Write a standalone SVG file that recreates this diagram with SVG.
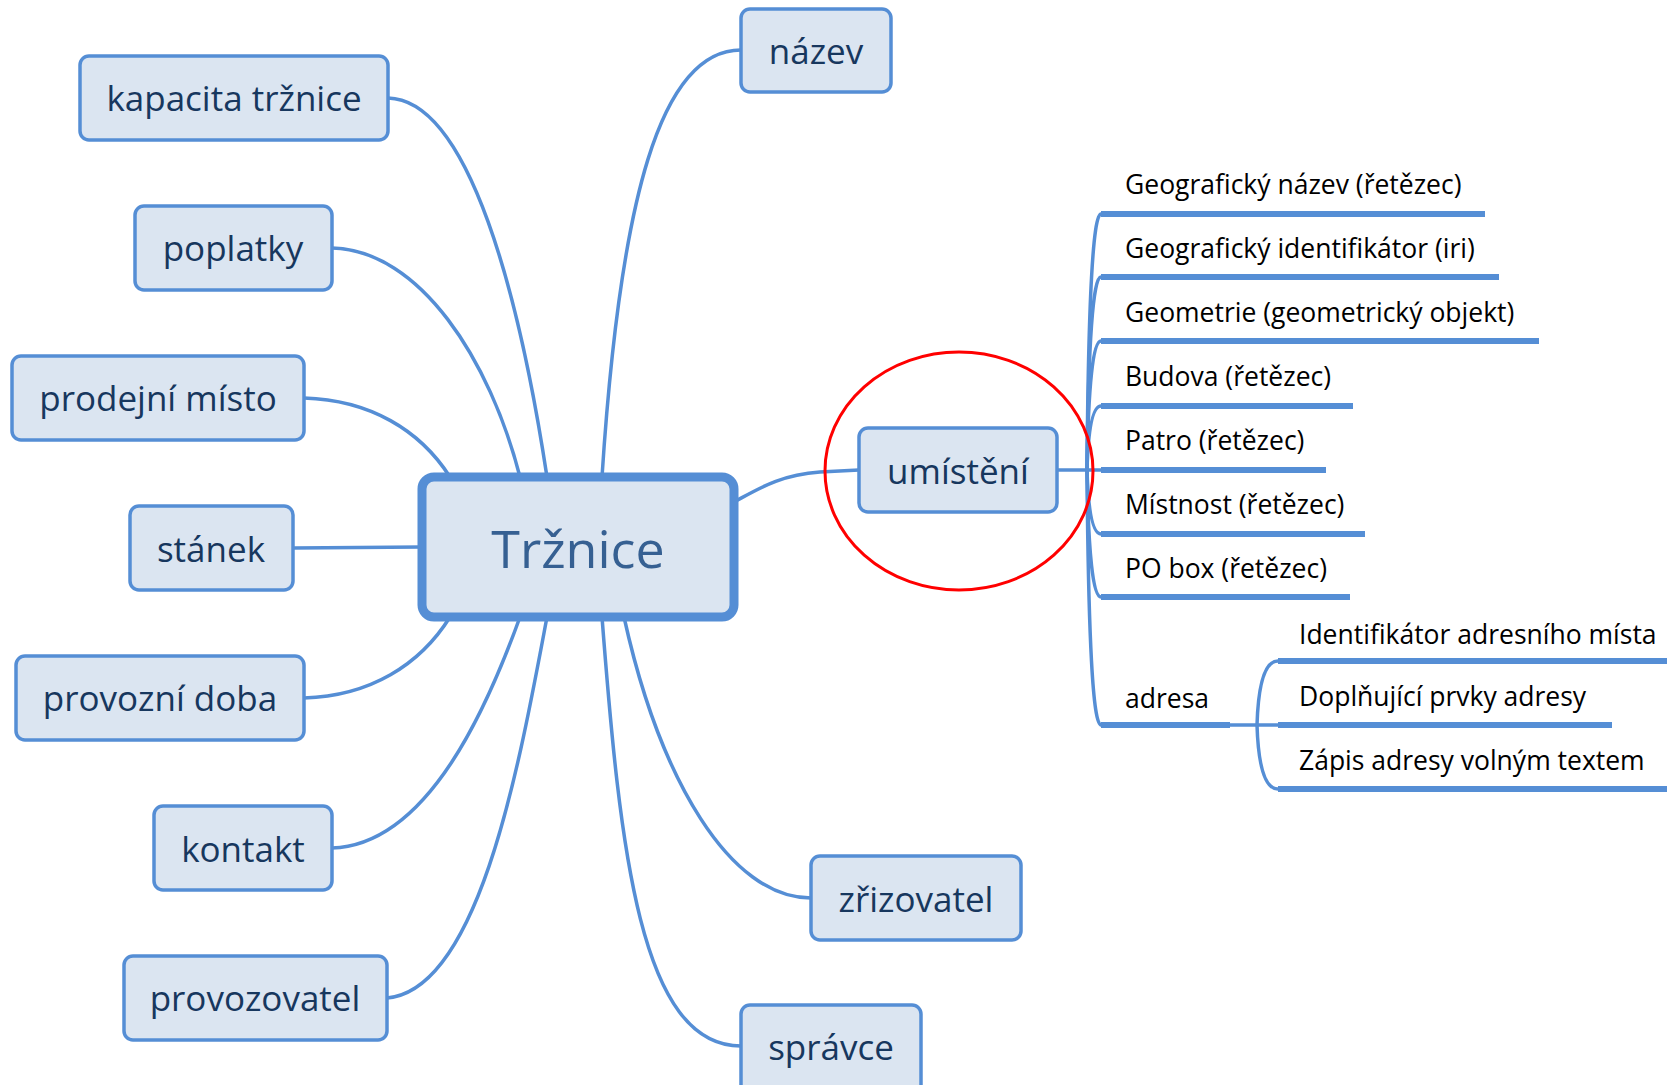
<svg xmlns="http://www.w3.org/2000/svg" width="1667" height="1085" viewBox="0 0 1667 1085">
<style>
.box{fill:#DBE5F1;stroke:#558ED5;stroke-width:3.5}
.root{fill:#DBE5F1;stroke:#558ED5;stroke-width:9}
.lbl{font-family:"Open Sans","Noto Sans","DejaVu Sans",sans-serif;font-size:35px;fill:#17375E;text-anchor:middle}
.rootlbl{font-family:"Open Sans","Noto Sans","DejaVu Sans",sans-serif;font-size:52px;fill:#366092;text-anchor:middle}
.sub{font-family:"Open Sans","Noto Sans","DejaVu Sans",sans-serif;font-size:26.5px;fill:#000}
.c{fill:none;stroke:#558ED5;stroke-width:3.5}
.u{fill:none;stroke:#558ED5;stroke-width:6}
</style>
<rect width="1667" height="1085" fill="#fff"/>
<g id="connectors">
<path class="c" d="M388 98 C470 100 520 300 547 477"/>
<path class="c" d="M332 248 C420 250 490 360 520 477"/>
<path class="c" d="M304 398 C370 400 420 430 450 477"/>
<path class="c" d="M293 548 L422 547"/>
<path class="c" d="M304 698 C370 696 420 665 450 617"/>
<path class="c" d="M332 848 C430 845 490 700 520 617"/>
<path class="c" d="M387 998 C480 990 520 760 547 617"/>
<path class="c" d="M741 50 C660 50 620 200 602 477"/>
<path class="c" d="M624 617 C660 780 730 898 811 898"/>
<path class="c" d="M602 617 C620 850 640 1046 741 1046"/>
<path class="c" d="M734 502 C760 488 780 475 820 472 L859 470"/>
<path class="c" d="M1057 470 L1087 470"/>
<path class="c" d="M1087 470 Q1089 214 1101 214"/>
<path class="c" d="M1087 470 Q1089 277 1101 277"/>
<path class="c" d="M1087 470 Q1089 341 1101 341"/>
<path class="c" d="M1087 470 Q1089 406 1101 406"/>
<path class="c" d="M1087 470 L1101 470"/>
<path class="c" d="M1087 470 Q1089 534 1101 534"/>
<path class="c" d="M1087 470 Q1089 597 1101 597"/>
<path class="c" d="M1087 470 Q1089 725 1101 725"/>
<path class="c" d="M1230 725 L1257 725"/>
<path class="c" d="M1257 725 Q1259 661 1278 661"/>
<path class="c" d="M1257 725 L1278 725"/>
<path class="c" d="M1257 725 Q1259 789 1278 789"/>
</g>
<g id="umisteni-items">
<path class="u" d="M1101 214 H1485"/>
<path class="u" d="M1101 277 H1499"/>
<path class="u" d="M1101 341 H1539"/>
<path class="u" d="M1101 406 H1353"/>
<path class="u" d="M1101 470 H1326"/>
<path class="u" d="M1101 534 H1365"/>
<path class="u" d="M1101 597 H1350"/>
<path class="u" d="M1101 725 H1230"/>
<path class="u" d="M1278 661 H1667"/>
<path class="u" d="M1278 725 H1612"/>
<path class="u" d="M1278 789 H1667"/>
<text class="sub" x="1125" y="194">Geografický název (řetězec)</text>
<text class="sub" x="1125" y="258">Geografický identifikátor (iri)</text>
<text class="sub" x="1125" y="322">Geometrie (geometrický objekt)</text>
<text class="sub" x="1125" y="386">Budova (řetězec)</text>
<text class="sub" x="1125" y="450">Patro (řetězec)</text>
<text class="sub" x="1125" y="514">Místnost (řetězec)</text>
<text class="sub" x="1125" y="578">PO box (řetězec)</text>
<text class="sub" x="1125" y="708">adresa</text>
<text class="sub" x="1299" y="644">Identifikátor adresního místa</text>
<text class="sub" x="1299" y="706">Doplňující prvky adresy</text>
<text class="sub" x="1299" y="770">Zápis adresy volným textem</text>
</g>
<g id="n-root"><rect class="root" x="422" y="477" width="312" height="140" rx="12"/><text class="rootlbl" x="578" y="568">Tržnice</text></g>
<g id="n-kapacita"><rect class="box" x="80" y="56" width="308" height="84" rx="9"/><text class="lbl" x="234" y="111">kapacita tržnice</text></g>
<g id="n-poplatky"><rect class="box" x="135" y="206" width="197" height="84" rx="9"/><text class="lbl" x="233" y="261">poplatky</text></g>
<g id="n-prodejni"><rect class="box" x="12" y="356" width="292" height="84" rx="9"/><text class="lbl" x="158" y="411">prodejní místo</text></g>
<g id="n-stanek"><rect class="box" x="130" y="506" width="163" height="84" rx="9"/><text class="lbl" x="211" y="562">stánek</text></g>
<g id="n-provozni"><rect class="box" x="16" y="656" width="288" height="84" rx="9"/><text class="lbl" x="160" y="711">provozní doba</text></g>
<g id="n-kontakt"><rect class="box" x="154" y="806" width="178" height="84" rx="9"/><text class="lbl" x="243" y="862">kontakt</text></g>
<g id="n-provozovatel"><rect class="box" x="124" y="956" width="263" height="84" rx="9"/><text class="lbl" x="255" y="1011">provozovatel</text></g>
<g id="n-nazev"><rect class="box" x="741" y="9" width="150" height="83" rx="9"/><text class="lbl" x="816" y="64">název</text></g>
<g id="n-umisteni"><rect class="box" x="859" y="428" width="198" height="84" rx="9"/><text class="lbl" x="958" y="484">umístění</text></g>
<g id="n-zrizovatel"><rect class="box" x="811" y="856" width="210" height="84" rx="9"/><text class="lbl" x="916" y="912">zřizovatel</text></g>
<g id="n-spravce"><rect class="box" x="741" y="1005" width="180" height="100" rx="9"/><text class="lbl" x="831" y="1060">správce</text></g>
<ellipse id="highlight" cx="959" cy="471" rx="134" ry="119" fill="none" stroke="#FF0000" stroke-width="3"/>
</svg>
